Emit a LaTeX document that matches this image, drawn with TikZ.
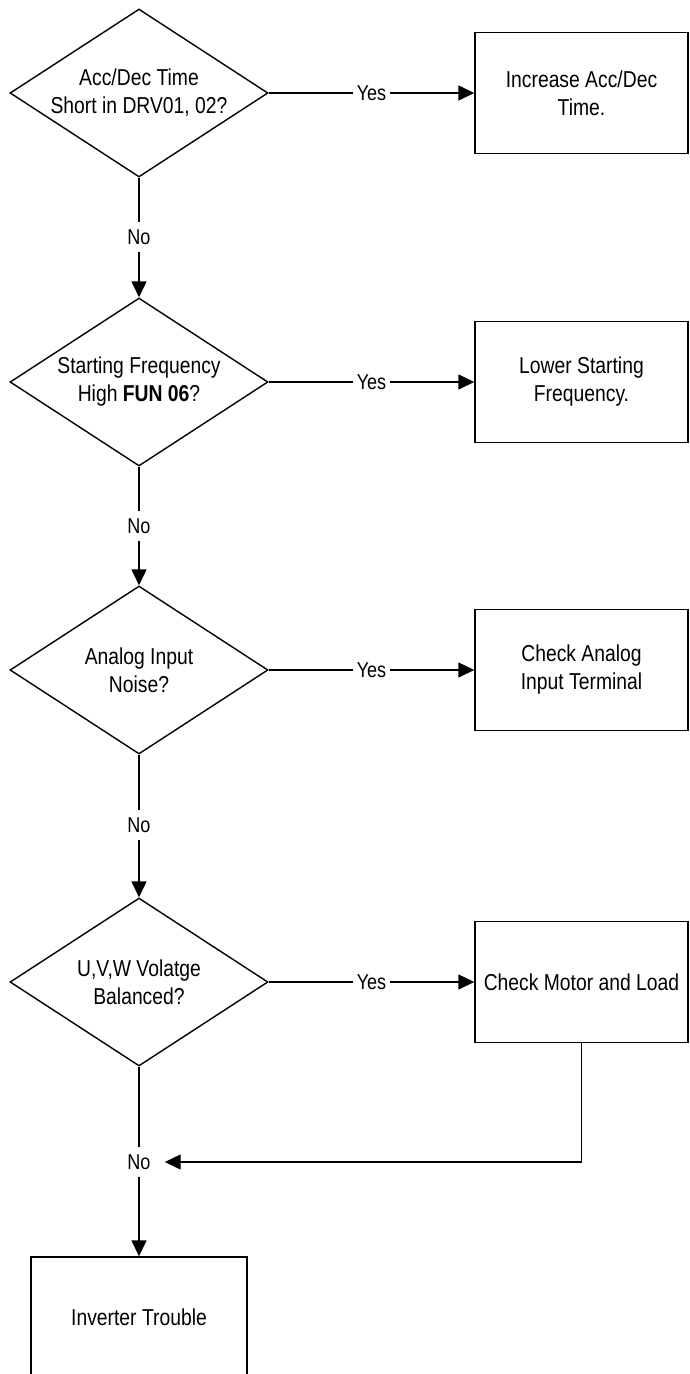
\documentclass[tikz,border=0pt]{standalone}
\usepackage{fontspec}
\setmainfont[FakeStretch=0.84]{Liberation Sans}
\usetikzlibrary{shapes.geometric,arrows.meta}
\begin{document}
\begin{tikzpicture}[x=1pt,y=-1pt,
  every node/.style={font=\fontsize{23}{28}\selectfont},
  dec/.style={draw, line width=1.4pt, shape=diamond, aspect=1.536, inner sep=0pt, minimum width=258pt, minimum height=168pt, align=center},
  act/.style={draw, line width=1.4pt, minimum width=213pt, minimum height=121pt, inner sep=0pt, align=center},
  lbl/.style={font=\fontsize{21.5}{25}\selectfont, fill=white, inner xsep=4pt, inner ysep=7pt},
  conn/.style={line width=1.4pt},
  arr/.style={conn, -{Triangle[length=16pt,width=15pt]}}
]
\useasboundingbox (0,0) rectangle (689,1374);
\node[dec] (d1) at (139,93) {Acc/Dec Time\\Short in DRV01, 02?};
\node[act] (b1) at (581.5,93) {Increase Acc/Dec\\Time.};
\node[lbl] (n1) at (139,237) {No};
\node[dec] (d2) at (139,382) {Starting Frequency\\High \textbf{FUN 06}?};
\node[act] (b2) at (581.5,382) {Lower Starting\\Frequency.};
\node[lbl] (n2) at (139,526) {No};
\node[dec] (d3) at (139,670) {Analog Input\\Noise?};
\node[act] (b3) at (581.5,670) {Check Analog\\Input Terminal};
\node[lbl] (n3) at (139,825) {No};
\node[dec] (d4) at (139,982) {U,V,W Volatge\\Balanced?};
\node[act] (b4) at (581.5,982) {Check Motor and Load};
\node[lbl] (n4) at (139,1162) {No};
\node[act, minimum width=216pt] (b5) at (139,1317.5) {Inverter Trouble};

\draw[arr] (d1.east) -- node[lbl]{Yes} (b1.west);
\draw[arr] (d2.east) -- node[lbl]{Yes} (b2.west);
\draw[arr] (d3.east) -- node[lbl]{Yes} (b3.west);
\draw[arr] (d4.east) -- node[lbl]{Yes} (b4.west);

\draw[conn] (d1.south) -- (n1);
\draw[arr] (n1) -- (d2.north);
\draw[conn] (d2.south) -- (n2);
\draw[arr] (n2) -- (d3.north);
\draw[conn] (d3.south) -- (n3);
\draw[arr] (n3) -- (d4.north);
\draw[conn] (d4.south) -- (n4);
\draw[arr] (n4) -- (b5.north);
\draw[arr, shorten >=10pt] (b4.south) |- (n4.east);
\end{tikzpicture}
\end{document}
